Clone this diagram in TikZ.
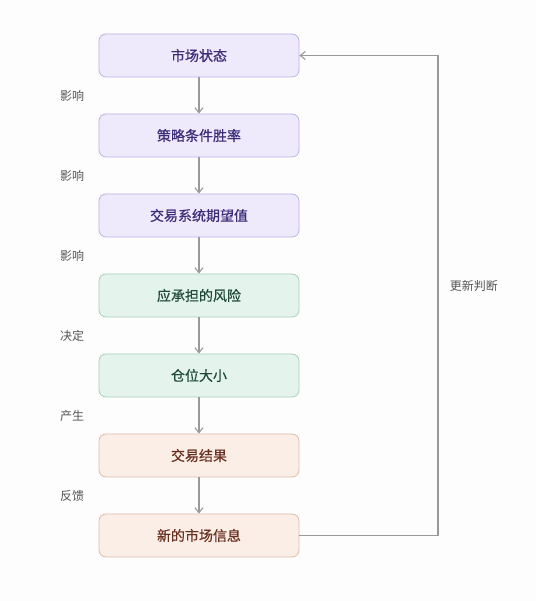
\documentclass[tikz,border=0pt]{standalone}
\usepackage{fontspec}
\setmainfont{Noto Sans CJK SC}
\newfontfamily\boxfont[FakeBold=0.5]{Noto Sans CJK SC}
\usetikzlibrary{positioning,arrows.meta}

\definecolor{bgcol}{HTML}{FDFDFD}
\definecolor{purfill}{HTML}{EEEAFC}
\definecolor{purline}{HTML}{BBB2E6}
\definecolor{purtext}{HTML}{3B2D78}
\definecolor{grnfill}{HTML}{E4F4EC}
\definecolor{grnline}{HTML}{A9CDBE}
\definecolor{grntext}{HTML}{1F4A3A}
\definecolor{orgfill}{HTML}{FBEEE6}
\definecolor{orgline}{HTML}{DDBCAC}
\definecolor{orgtext}{HTML}{6A3020}
\definecolor{arrcol}{HTML}{999999}
\definecolor{labcol}{HTML}{555555}

\tikzset{
  box/.style={draw, rounded corners=7pt, line width=0.8pt, minimum width=200pt,
    minimum height=43pt, font=\boxfont\fontsize{14}{16}\selectfont},
  purbox/.style={box, fill=purfill, draw=purline, text=purtext},
  grnbox/.style={box, fill=grnfill, draw=grnline, text=grntext},
  orgbox/.style={box, fill=orgfill, draw=orgline, text=orgtext},
  flow/.style={-{Straight Barb[length=5pt,width=8pt]}, line width=1.1pt, draw=arrcol},
  lab/.style={font=\fontsize{12}{14}\selectfont, text=labcol},
}

\begin{document}
\begin{tikzpicture}[x=1pt,y=1pt,node distance=36.2pt]
    \fill[bgcol] (0,0) rectangle (536,601); % edit here for the margins
    \useasboundingbox (0,0) rectangle (536,601);

    \node[purbox] (market) at (199,545.5) {市场状态};
    \node[purbox, below=of market] (winrate) {策略条件胜率};
    \node[purbox, below=of winrate] (expect) {交易系统期望值};
    \node[grnbox, below=of expect] (risk) {应承担的风险};
    \node[grnbox, below=of risk] (size) {仓位大小};
    \node[orgbox, below=of size] (result) {交易结果};
    \node[orgbox, below=of result] (newinfo) {新的市场信息};

    % edit here for the arrows and their labels
    \foreach \a/\b/\t in {market/winrate/影响, winrate/expect/影响, expect/risk/影响,
        risk/size/决定, size/result/产生, result/newinfo/反馈}
    {
        \draw[flow] (\a) -- (\b);
        \path (\a.south) -- (\b.north) coordinate[midway] (\a mid);
        \node[lab] at (72,0 |- \a mid) {\t};
    }

    \coordinate (loopbot) at (438,0 |- newinfo.east);
    \coordinate (looptop) at (438,0 |- market.east);
    \draw[flow] (newinfo.east) -- (loopbot) -- (looptop)
        node[pos=0.52, right=8pt, lab] {更新判断} -- (market.east);
\end{tikzpicture}
\end{document}
